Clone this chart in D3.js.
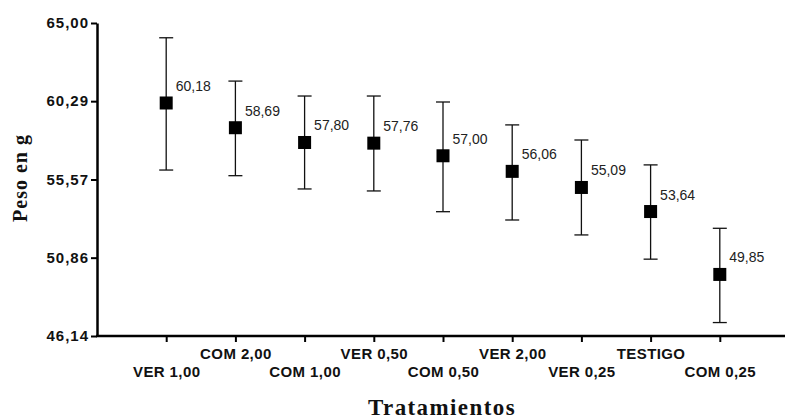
<!DOCTYPE html>
<html>
<head>
<meta charset="utf-8">
<script src="https://cdn.jsdelivr.net/npm/d3@7"></script>
<style>
  body { margin: 0; background: #fff; }
  .tick text { font-family: Arial, "Liberation Sans", sans-serif; font-weight: bold; }
</style>
</head>
<body>
<svg id="chart"></svg>
<script>
const treatments = ['VER 1,00', 'COM 2,00', 'COM 1,00', 'VER 0,50', 'COM 0,50', 'VER 2,00', 'VER 0,25', 'TESTIGO', 'COM 0,25'];
const means = [60.18, 58.69, 57.80, 57.76, 57.00, 56.06, 55.09, 53.64, 49.85];
const upper = [64.11, 61.50, 60.60, 60.60, 60.24, 58.86, 57.95, 56.45, 52.63];
const lower = [56.14, 55.80, 55.00, 54.88, 53.63, 53.13, 52.23, 50.77, 46.95];
const yTicks = [46.14, 50.86, 55.57, 60.29, 65.00];

const width = 785, height = 419;
const margin = {top: 23, right: -4, bottom: 83, left: 97};

const svg = d3.select('#chart')
    .attr('width', width)
    .attr('height', height);

const x = d3.scalePoint()
    .domain(treatments)
    .range([margin.left, width - margin.right])
    .padding(1);

const y = d3.scaleLinear()
    .domain([46.14, 65])
    .range([height - margin.bottom, margin.top]);

const fmt = v => v.toFixed(2).replace('.', ',');

// axes
const xAxisG = svg.append('g')
    .attr('transform', `translate(0,${y(46.14)})`)
    .call(d3.axisBottom(x).tickSize(6).tickSizeOuter(0).tickPadding(3));
xAxisG.select('.domain').attr('stroke-width', 2.5).attr('d', `M${margin.left - 1},0H${width}`);
xAxisG.selectAll('.tick line').attr('stroke-width', 2);
xAxisG.selectAll('.tick text')
    .style('font-size', '15px')
    .style('letter-spacing', '0.4px')
    .attr('fill', '#111')
    .attr('y', (d, i) => i % 2 === 0 ? 30 : 12.5);

const yAxisG = svg.append('g')
    .attr('transform', `translate(${margin.left},0)`)
    .call(d3.axisLeft(y).tickValues(yTicks).tickFormat(fmt).tickSize(6).tickSizeOuter(0).tickPadding(2));
yAxisG.select('.domain').attr('stroke-width', 2.5);
yAxisG.selectAll('.tick line').attr('stroke-width', 2);
yAxisG.selectAll('.tick text')
    .style('font-size', '15px')
    .style('letter-spacing', '1px')
    .attr('fill', '#111');

// error bars
const pts = svg.append('g').selectAll('g')
    .data(treatments)
    .join('g');

pts.append('line')
    .attr('x1', d => x(d)).attr('x2', d => x(d))
    .attr('y1', (d, i) => y(upper[i]))
    .attr('y2', (d, i) => y(lower[i]))
    .attr('stroke', '#111').attr('stroke-width', 1.3);

pts.append('line')
    .attr('x1', d => x(d) - 7).attr('x2', d => x(d) + 7)
    .attr('y1', (d, i) => y(upper[i])).attr('y2', (d, i) => y(upper[i]))
    .attr('stroke', '#111').attr('stroke-width', 1.3);

pts.append('line')
    .attr('x1', d => x(d) - 7).attr('x2', d => x(d) + 7)
    .attr('y1', (d, i) => y(lower[i])).attr('y2', (d, i) => y(lower[i]))
    .attr('stroke', '#111').attr('stroke-width', 1.3);

pts.append('rect')
    .attr('x', d => x(d) - 6.5)
    .attr('y', (d, i) => y(means[i]) - 6.5)
    .attr('width', 13).attr('height', 13)
    .attr('fill', '#000');

pts.append('text')
    .attr('x', d => x(d) + 9.5)
    .attr('y', (d, i) => y(means[i]) - 12)
    .attr('font-family', 'Arial, "Liberation Sans", sans-serif')
    .attr('font-size', '14px')
    .attr('fill', '#222')
    .text((d, i) => fmt(means[i]));

// axis titles
svg.append('text')
    .attr('transform', `translate(27,178) rotate(-90)`)
    .attr('text-anchor', 'middle')
    .attr('font-family', '"Liberation Serif", "Times New Roman", serif')
    .attr('font-weight', 'bold')
    .attr('font-size', '20px')
    .attr('letter-spacing', '1px')
    .attr('fill', '#111')
    .text('Peso en g');

svg.append('text')
    .attr('x', 442)
    .attr('y', 415)
    .attr('text-anchor', 'middle')
    .attr('font-family', '"Liberation Serif", "Times New Roman", serif')
    .attr('font-weight', 'bold')
    .attr('font-size', '23px')
    .attr('letter-spacing', '1.4px')
    .attr('fill', '#111')
    .text('Tratamientos');
</script>
</body>
</html>
